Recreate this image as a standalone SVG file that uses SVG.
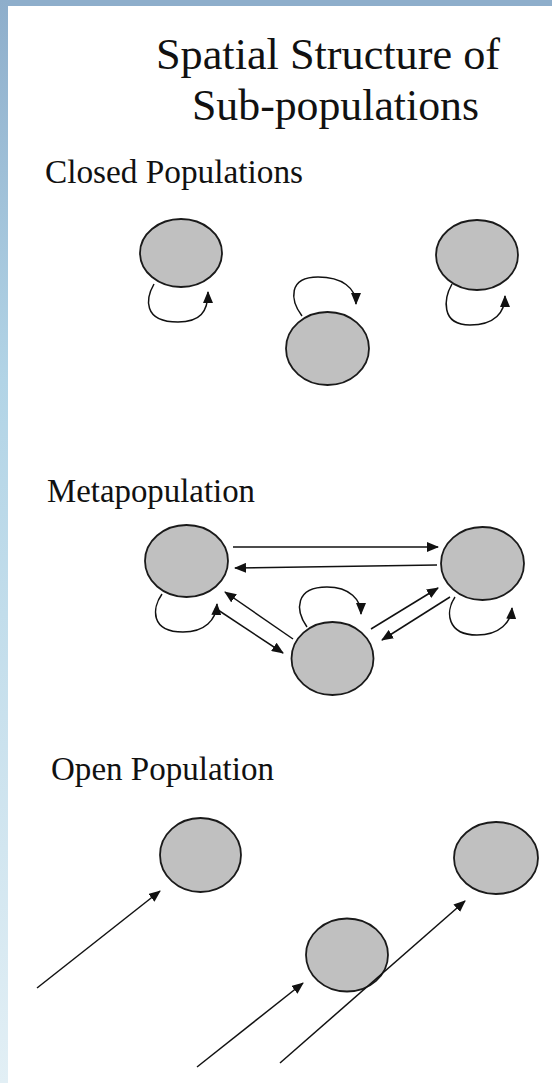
<svg xmlns="http://www.w3.org/2000/svg" width="552" height="1083" viewBox="0 0 552 1083">
<defs>
<linearGradient id="side" x1="0" y1="0" x2="0" y2="1">
<stop offset="0" stop-color="#8eaecb"/>
<stop offset="0.35" stop-color="#b2d4e6"/>
<stop offset="1" stop-color="#e2eff5"/>
</linearGradient>
<marker id="ah" viewBox="0 0 12 10" refX="11" refY="5" markerWidth="12" markerHeight="10" markerUnits="userSpaceOnUse" orient="auto">
<path d="M0,0 L12,5 L0,10 z" fill="#111"/>
</marker>
<style>
.node{fill:#c0c0c0;stroke:#1a1a1a;stroke-width:1.8}
.ln{fill:none;stroke:#111;stroke-width:1.5;marker-end:url(#ah)}
.t{fill:#111}
</style>
</defs>
<rect width="552" height="1083" fill="#fff"/>
<rect x="0" y="0" width="552" height="6" fill="#8eaecb"/>
<rect x="0" y="0" width="8" height="1083" fill="url(#side)"/>

<g id="titles">
<text class="t" font-family="'Liberation Serif', 'Times New Roman', Times, serif" x="156" y="69" font-size="44" textLength="344" lengthAdjust="spacingAndGlyphs">Spatial Structure of</text>
<text class="t" font-family="'Liberation Serif', 'Times New Roman', Times, serif" x="192" y="120" font-size="44" textLength="287" lengthAdjust="spacingAndGlyphs">Sub-populations</text>
<text class="t" font-family="'Liberation Serif', 'Times New Roman', Times, serif" x="45" y="183" font-size="33" textLength="258" lengthAdjust="spacingAndGlyphs">Closed Populations</text>
<text class="t" font-family="'Liberation Serif', 'Times New Roman', Times, serif" x="47" y="502" font-size="33" textLength="208" lengthAdjust="spacingAndGlyphs">Metapopulation</text>
<text class="t" font-family="'Liberation Serif', 'Times New Roman', Times, serif" x="51" y="780" font-size="33" textLength="223" lengthAdjust="spacingAndGlyphs">Open Population</text>
</g>

<g id="closed1"><ellipse class="node" cx="181" cy="253" rx="41" ry="34"/></g>
<g id="closed2"><ellipse class="node" cx="327.5" cy="348.5" rx="41.5" ry="36.5"/></g>
<g id="closed3"><ellipse class="node" cx="477" cy="255" rx="41" ry="35"/></g>

<g id="metaA"><ellipse class="node" cx="186.5" cy="561" rx="41.5" ry="36"/></g>
<g id="metaB"><ellipse class="node" cx="482.5" cy="563.5" rx="41.5" ry="36.5"/></g>
<g id="metaC"><ellipse class="node" cx="332.5" cy="658.5" rx="41" ry="36.5"/></g>

<g id="open1"><ellipse class="node" cx="200.5" cy="855" rx="40.5" ry="37"/></g>
<g id="open2"><ellipse class="node" cx="347" cy="955" rx="41" ry="36.5"/></g>
<g id="open3"><ellipse class="node" cx="496" cy="858" rx="42" ry="36"/></g>

<g id="connectors">
<path class="ln" d="M154,284 C146,298 142,322 178,322 C200,322 208,312 208,292"/>
<path class="ln" d="M302,316 C290,300 288,277 318,277 C342,277 356,288 356,304"/>
<path class="ln" d="M452,284 C444,298 440,325 470,325 C495,325 505,312 505,296"/>

<path class="ln" d="M162,594 C152,608 150,632 183,632 C205,632 216,620 217,604"/>
<path class="ln" d="M307,627 C295,610 295,587 327,587 C350,587 361,600 361,614"/>
<path class="ln" d="M455,597 C445,612 447,635 477,635 C500,635 511,622 512,608"/>

<path class="ln" d="M233,547 L438,547"/>
<path class="ln" d="M437,565 L235,568"/>
<path class="ln" d="M293,639 L225,592"/>
<path class="ln" d="M215,608 L283,653"/>
<path class="ln" d="M371,629 L438,588"/>
<path class="ln" d="M450,597 L382,640"/>

<path class="ln" d="M37,988 L160,891"/>
<path class="ln" d="M197,1067 L303,983"/>
<path class="ln" d="M280,1063 L465,901"/>
</g>
</svg>
